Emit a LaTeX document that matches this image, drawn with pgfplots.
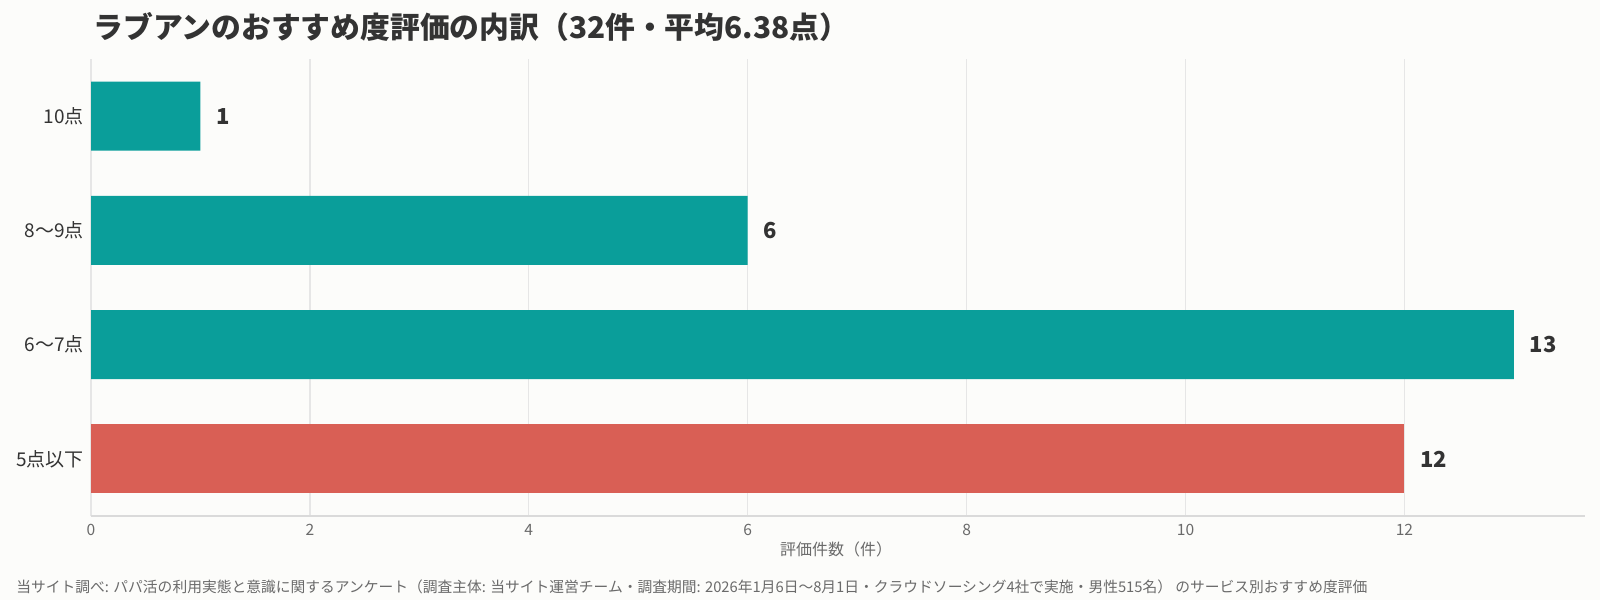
\documentclass[border=0pt]{standalone}
\usepackage{fontspec}
\setmainfont{Noto Sans CJK JP}
\usepackage{pgfplots}
\pgfplotsset{compat=1.18}

\definecolor{bgc}{HTML}{FCFCFA}
\definecolor{barteal}{HTML}{0A9E9A}
\definecolor{barred}{HTML}{D95F55}
\definecolor{gridc}{HTML}{E6E6E6}
\definecolor{axisc}{HTML}{DADADA}
\definecolor{txt}{HTML}{333333}
\definecolor{subtxt}{HTML}{6A6A6A}

\begin{document}
\begin{tikzpicture}[x=1pt,y=1pt]
\fill[bgc] (0,0) rectangle (800,300);
\useasboundingbox (0,0) rectangle (800,300);

\begin{axis}[
    at={(45.5pt,42pt)}, anchor=south west,
    scale only axis,
    width=747pt, height=228.5pt,
    xbar, bar width=34.5pt,
    xmin=0, xmax=13.65,
    ymin=-0.5, ymax=3.5,
    xtick={0,2,...,12},
    ytick={0,1,2,3},
    yticklabels={5点以下,6〜7点,8〜9点,10点},
    axis x line*=bottom, axis y line*=left,
    x axis line style={-, draw=axisc, line width=0.6pt},
    y axis line style={draw=none},
    major tick length=0pt,
    xmajorgrids,
    grid style={gridc, line width=0.6pt},
    /pgf/number format/assume math mode=true,
    xticklabel style={font=\fontsize{7.8}{9}\selectfont, text=subtxt, yshift=-0.5pt},
    yticklabel style={font=\fontsize{9.5}{11}\selectfont, text=txt},
    point meta=x,
    nodes near coords,
    every node near coord/.append style={anchor=west, xshift=4.5pt,
        font=\fontsize{11}{13}\selectfont\bfseries, text=txt},
]
\addplot[fill=barteal, draw=none, bar shift=0pt] coordinates {(1,3) (6,2) (13,1)};
\addplot[fill=barred, draw=none, bar shift=0pt] coordinates {(12,0)};
\end{axis}

\node[anchor=west, inner sep=0, text=txt, font=\fontsize{14.9}{18}\selectfont\bfseries]
    at (46.5,286.5) {ラブアンのおすすめ度評価の内訳（32件・平均6.38点）};
\node[inner sep=0, text=subtxt, font=\fontsize{8}{9}\selectfont]
    at (418,25.5) {評価件数（件）};
\node[anchor=west, inner sep=0, text=subtxt, font=\fontsize{7.38}{9}\selectfont]
    at (8,6.6) {当サイト調べ: パパ活の利用実態と意識に関するアンケート（調査主体: 当サイト運営チーム・調査期間: 2026年1月6日〜8月1日・クラウドソーシング4社で実施・男性515名） のサービス別おすすめ度評価};
\end{tikzpicture}
\end{document}
